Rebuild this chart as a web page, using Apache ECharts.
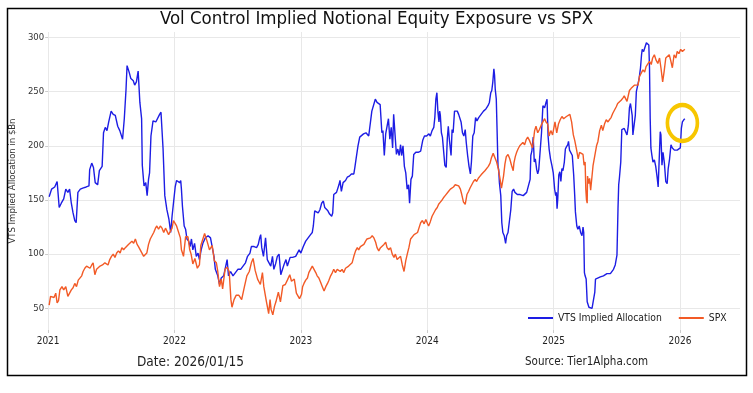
<!DOCTYPE html>
<html><head><meta charset="utf-8">
<script src="https://cdn.jsdelivr.net/npm/echarts@6/dist/echarts.min.js"></script>
<style>html,body{margin:0;padding:0;background:#fff}#c{width:753px;height:393px}</style>
</head><body><div id="c"></div>
<script>
const chartTitle = 'Vol Control Implied Notional Equity Exposure vs SPX';
const yAxisName = 'VTS Implied Allocation in $Bn';
const dateNote = 'Date: 2026/01/15';
const sourceNote = 'Source: Tier1Alpha.com';
const seriesNames = ['VTS Implied Allocation', 'SPX'];
const yearTicks = [2021, 2022, 2023, 2024, 2025, 2026];
const yTicks = [50, 100, 150, 200, 250, 300];
const circleDate = '2026-01-08';
const circleValue = 221;

const vtsDates = [
 '2021-01-04','2021-01-11','2021-01-20','2021-01-27','2021-02-02','2021-02-08','2021-02-15','2021-02-21','2021-02-27','2021-03-04',
 '2021-03-09','2021-03-14','2021-03-19','2021-03-23','2021-03-28','2021-04-04','2021-04-11','2021-04-21','2021-04-29','2021-05-01',
 '2021-05-07','2021-05-12','2021-05-17','2021-05-24','2021-05-29','2021-06-06','2021-06-10','2021-06-15','2021-06-20','2021-06-25',
 '2021-07-02','2021-07-08','2021-07-14','2021-07-21','2021-07-27','2021-08-04','2021-08-09','2021-08-14','2021-08-17','2021-08-23',
 '2021-08-28','2021-09-04','2021-09-08','2021-09-13','2021-09-18','2021-09-23','2021-09-28','2021-09-30','2021-10-05','2021-10-10',
 '2021-10-14','2021-10-18','2021-10-21','2021-10-25','2021-10-31','2021-11-08','2021-11-13','2021-11-19','2021-11-23','2021-11-29',
 '2021-12-04','2021-12-10','2021-12-16','2021-12-21','2021-12-25',
 '2022-01-03','2022-01-07','2022-01-12','2022-01-16','2022-01-19','2022-01-21','2022-01-24','2022-01-29','2022-02-02','2022-02-06',
 '2022-02-11','2022-02-15','2022-02-19','2022-02-23','2022-02-28','2022-03-05','2022-03-10','2022-03-14','2022-03-19','2022-03-24',
 '2022-03-31','2022-04-08','2022-04-15','2022-04-20','2022-04-25','2022-04-29','2022-05-06','2022-05-11','2022-05-16','2022-05-23',
 '2022-05-27','2022-06-02','2022-06-06','2022-06-12','2022-06-19','2022-06-26','2022-07-03','2022-07-11','2022-07-18','2022-07-25',
 '2022-07-31','2022-08-07','2022-08-11','2022-08-19','2022-08-26','2022-08-31','2022-09-04','2022-09-07','2022-09-10','2022-09-15',
 '2022-09-21','2022-09-26','2022-10-01','2022-10-06','2022-10-11','2022-10-15','2022-10-20','2022-10-25','2022-10-30','2022-11-04',
 '2022-11-09','2022-11-14','2022-11-19','2022-11-23','2022-12-01','2022-12-08','2022-12-17','2022-12-27',
 '2023-01-01','2023-01-08','2023-01-15','2023-01-22','2023-01-29','2023-02-03','2023-02-06','2023-02-10','2023-02-15','2023-02-20',
 '2023-02-25','2023-03-02','2023-03-07','2023-03-11','2023-03-15','2023-03-20','2023-03-25','2023-03-31','2023-04-03','2023-04-06',
 '2023-04-14','2023-04-21','2023-04-24','2023-04-28','2023-05-03','2023-05-10','2023-05-15','2023-05-21','2023-05-27','2023-06-03',
 '2023-06-06','2023-06-10','2023-06-15','2023-06-20','2023-06-25','2023-07-01','2023-07-08','2023-07-16','2023-07-20','2023-07-25',
 '2023-07-30','2023-08-04','2023-08-09','2023-08-13','2023-08-18','2023-08-23','2023-08-26','2023-08-30','2023-09-03','2023-09-06',
 '2023-09-11','2023-09-15','2023-09-19','2023-09-23','2023-09-26','2023-09-30','2023-10-04','2023-10-08','2023-10-12','2023-10-16',
 '2023-10-19','2023-10-23','2023-10-27','2023-10-31','2023-11-04','2023-11-08','2023-11-11','2023-11-15','2023-11-19','2023-11-23',
 '2023-11-29','2023-12-06','2023-12-13','2023-12-19','2023-12-24','2023-12-30',
 '2024-01-03','2024-01-06','2024-01-10','2024-01-15','2024-01-20','2024-01-23','2024-01-26','2024-01-29','2024-02-01','2024-02-04',
 '2024-02-06','2024-02-08','2024-02-11','2024-02-14','2024-02-18','2024-02-21','2024-02-25','2024-02-28','2024-03-02','2024-03-05',
 '2024-03-07','2024-03-10','2024-03-13','2024-03-16','2024-03-20','2024-03-23','2024-03-28','2024-04-01','2024-04-04','2024-04-08',
 '2024-04-12','2024-04-16','2024-04-20','2024-04-23','2024-04-27','2024-05-01','2024-05-05','2024-05-08','2024-05-12','2024-05-16',
 '2024-05-20','2024-05-24','2024-05-29','2024-06-05','2024-06-12','2024-06-19','2024-06-25','2024-06-29','2024-07-03','2024-07-06',
 '2024-07-09','2024-07-12','2024-07-14','2024-07-16','2024-07-19','2024-07-21','2024-07-24','2024-07-26','2024-07-28','2024-08-01',
 '2024-08-04','2024-08-07','2024-08-11','2024-08-15','2024-08-18','2024-08-22','2024-08-26','2024-08-30','2024-09-03','2024-09-07',
 '2024-09-11','2024-09-18','2024-09-26','2024-10-05','2024-10-10','2024-10-15','2024-10-20','2024-10-25','2024-10-27','2024-10-30',
 '2024-11-03','2024-11-06','2024-11-09','2024-11-13','2024-11-16','2024-11-19','2024-11-22','2024-11-27','2024-12-01','2024-12-06',
 '2024-12-10','2024-12-13','2024-12-16','2024-12-19','2024-12-23','2024-12-27','2024-12-31',
 '2025-01-04','2025-01-07','2025-01-09','2025-01-11','2025-01-13','2025-01-16','2025-01-19','2025-01-22','2025-01-25','2025-01-28',
 '2025-02-01','2025-02-04','2025-02-07','2025-02-11','2025-02-13','2025-02-16','2025-02-20','2025-02-24','2025-02-28','2025-03-03',
 '2025-03-05','2025-03-09','2025-03-12','2025-03-16','2025-03-20','2025-03-24','2025-03-27','2025-03-29','2025-03-31','2025-04-02',
 '2025-04-05','2025-04-08','2025-04-13','2025-04-17','2025-04-22','2025-04-27','2025-04-30','2025-05-02','2025-05-06','2025-05-16',
 '2025-05-25','2025-06-04','2025-06-14','2025-06-18','2025-06-23','2025-06-28','2025-07-03','2025-07-06','2025-07-08','2025-07-10',
 '2025-07-14','2025-07-17','2025-07-20','2025-07-24','2025-07-28','2025-08-01','2025-08-05','2025-08-08','2025-08-11','2025-08-13',
 '2025-08-16','2025-08-18','2025-08-22','2025-08-25','2025-08-28','2025-09-01','2025-09-05','2025-09-09','2025-09-12','2025-09-14',
 '2025-09-18','2025-09-22','2025-09-26','2025-09-30','2025-10-03','2025-10-05','2025-10-07','2025-10-09','2025-10-12','2025-10-15',
 '2025-10-19','2025-10-23','2025-10-27','2025-10-30','2025-11-02','2025-11-05','2025-11-07','2025-11-10','2025-11-13','2025-11-17',
 '2025-11-21','2025-11-25','2025-11-28','2025-12-02','2025-12-06','2025-12-10','2025-12-16','2025-12-24','2025-12-29',
 '2026-01-02','2026-01-05','2026-01-08','2026-01-12','2026-01-15'
];
const vtsValues = [
 153,160,162,167,143,147,151,160,157,160,
 147,138,131,129,157,160,161,162,163,178,
 184,180,166,164,177,181,212,217,214,222,
 232,229,228,218,214,206,225,252,274,268,
 262,260,256,259,269,240,225,182,163,166,
 154,169,175,209,223,222,223,229,231,197,
 154,141,132,120,135,
 162,168,169,166,168,160,144,126,123,114,
 112,107,114,104,110,98,101,95,104,110,
 115,117,115,114,98,86,80,72,78,80,
 86,95,80,84,80,83,86,86,89,92,
 98,101,107,107,106,109,115,118,106,98,
 115,95,92,89,98,86,91,98,100,81,
 86,91,95,89,97,97,98,104,
 101,107,112,115,118,120,126,140,141,138,
 141,147,149,143,144,140,137,135,138,155,
 157,164,168,158,166,168,171,172,174,174,
 180,189,200,208,209,211,212,209,209,232,
 232,243,240,239,238,212,214,191,211,212,
 225,206,217,198,229,228,192,197,191,201,
 191,200,181,175,160,164,147,169,172,192,
 194,194,195,205,209,209,
 209,211,209,214,217,226,243,249,231,222,
 232,228,212,208,209,182,180,206,218,206,
 200,191,215,212,232,231,232,229,228,222,
 212,209,215,203,191,181,174,185,209,212,
 226,223,226,229,232,234,237,240,249,251,
 259,271,265,252,243,218,181,178,166,154,
 129,120,117,110,117,120,121,141,158,160,
 157,155,155,154,154,157,163,169,191,195,
 208,185,188,178,174,178,177,212,237,235,
 240,243,209,197,188,182,175,
 160,154,157,142,151,173,176,167,179,177,
 185,197,199,201,204,196,196,191,173,154,
 139,126,123,126,120,117,125,120,83,80,
 77,56,51,51,50,49,65,77,77,79,
 80,82,82,83,86,90,99,142,164,170,
 185,215,215,216,216,210,219,235,239,238,
 228,210,210,228,250,256,262,272,284,289,
 287,286,295,296,293,272,225,198,191,185,
 187,181,171,162,161,213,210,182,194,184,
 167,165,179,188,201,198,196,196,196,
 198,216,222,224,225
];

const spxDates = [
 '2021-01-04','2021-01-08','2021-01-13','2021-01-18','2021-01-23','2021-01-27','2021-01-31','2021-02-04','2021-02-10','2021-02-15',
 '2021-02-21','2021-02-27','2021-03-04','2021-03-09','2021-03-14','2021-03-19','2021-03-24','2021-03-29','2021-04-03','2021-04-08',
 '2021-04-12','2021-04-17','2021-04-22','2021-04-27','2021-05-02','2021-05-07','2021-05-11','2021-05-16','2021-05-21','2021-05-26',
 '2021-05-31','2021-06-07','2021-06-14','2021-06-19','2021-06-23','2021-06-28','2021-07-03','2021-07-08','2021-07-13','2021-07-18',
 '2021-07-23','2021-07-28','2021-08-02','2021-08-07','2021-08-12','2021-08-16','2021-08-21','2021-08-26','2021-08-31','2021-09-05',
 '2021-09-10','2021-09-15','2021-09-19','2021-09-24','2021-09-29','2021-10-04','2021-10-09','2021-10-13','2021-10-18','2021-10-23',
 '2021-10-28','2021-11-02','2021-11-07','2021-11-11','2021-11-16','2021-11-21','2021-11-26','2021-12-01','2021-12-06','2021-12-11',
 '2021-12-15','2021-12-20','2021-12-25','2021-12-29',
 '2022-01-03','2022-01-07','2022-01-12','2022-01-18','2022-01-21','2022-01-27','2022-02-02','2022-02-09','2022-02-14','2022-02-18',
 '2022-02-23','2022-03-01','2022-03-08','2022-03-14','2022-03-18','2022-03-24','2022-03-29','2022-04-05','2022-04-12','2022-04-20',
 '2022-04-26','2022-05-02','2022-05-06','2022-05-11','2022-05-16','2022-05-20','2022-05-27','2022-06-02','2022-06-08','2022-06-13',
 '2022-06-16','2022-06-22','2022-06-28','2022-07-06','2022-07-14','2022-07-22','2022-07-29','2022-08-05','2022-08-11','2022-08-16',
 '2022-08-22','2022-08-29','2022-09-06','2022-09-12','2022-09-16','2022-09-23','2022-09-30','2022-10-04','2022-10-07','2022-10-12',
 '2022-10-17','2022-10-21','2022-10-28','2022-11-03','2022-11-10','2022-11-17','2022-11-23','2022-11-30','2022-12-05','2022-12-13',
 '2022-12-19','2022-12-28',
 '2023-01-03','2023-01-06','2023-01-10','2023-01-15','2023-01-20','2023-01-24','2023-01-29','2023-02-03','2023-02-08','2023-02-13',
 '2023-02-17','2023-02-22','2023-02-27','2023-03-04','2023-03-09','2023-03-14','2023-03-19','2023-03-23','2023-03-28','2023-04-02',
 '2023-04-06','2023-04-11','2023-04-16','2023-04-20','2023-04-25','2023-04-30','2023-05-05','2023-05-10','2023-05-14','2023-05-19',
 '2023-05-24','2023-05-29','2023-06-03','2023-06-08','2023-06-13','2023-06-17','2023-06-22','2023-06-27','2023-07-02','2023-07-07',
 '2023-07-11','2023-07-16','2023-07-21','2023-07-26','2023-07-31','2023-08-05','2023-08-09','2023-08-14','2023-08-19','2023-08-24',
 '2023-08-29','2023-09-03','2023-09-07','2023-09-12','2023-09-17','2023-09-22','2023-09-27','2023-10-01','2023-10-06','2023-10-11',
 '2023-10-16','2023-10-21','2023-10-26','2023-10-31','2023-11-05','2023-11-09','2023-11-14','2023-11-19','2023-11-24','2023-11-29',
 '2023-12-04','2023-12-08','2023-12-13','2023-12-18','2023-12-23','2023-12-28',
 '2024-01-02','2024-01-05','2024-01-10','2024-01-15','2024-01-20','2024-01-25','2024-01-30','2024-02-03','2024-02-08','2024-02-13',
 '2024-02-17','2024-02-22','2024-02-27','2024-03-03','2024-03-08','2024-03-13','2024-03-17','2024-03-22','2024-03-27','2024-04-01',
 '2024-04-06','2024-04-10','2024-04-15','2024-04-20','2024-04-25','2024-04-30','2024-05-04','2024-05-09','2024-05-14','2024-05-19',
 '2024-05-23','2024-05-28','2024-06-02','2024-06-07','2024-06-11','2024-06-16','2024-06-21','2024-06-26','2024-07-01','2024-07-05',
 '2024-07-10','2024-07-15','2024-07-20','2024-07-24','2024-07-29','2024-08-03','2024-08-05','2024-08-09','2024-08-13','2024-08-17',
 '2024-08-22','2024-08-27','2024-09-01','2024-09-06','2024-09-08','2024-09-12','2024-09-16','2024-09-20','2024-09-25','2024-09-30',
 '2024-10-04','2024-10-09','2024-10-14','2024-10-18','2024-10-23','2024-10-28','2024-11-01','2024-11-07','2024-11-11','2024-11-16',
 '2024-11-21','2024-11-26','2024-12-01','2024-12-06','2024-12-10','2024-12-15','2024-12-19','2024-12-24','2024-12-29',
 '2025-01-05','2025-01-10','2025-01-15','2025-01-20','2025-01-25','2025-01-30','2025-02-03','2025-02-07','2025-02-12','2025-02-17',
 '2025-02-22','2025-02-27','2025-03-03','2025-03-08','2025-03-13','2025-03-17','2025-03-22','2025-03-27','2025-03-30','2025-04-02',
 '2025-04-04','2025-04-06','2025-04-08','2025-04-09','2025-04-12','2025-04-15','2025-04-18','2025-04-21','2025-04-25','2025-04-30',
 '2025-05-05','2025-05-09','2025-05-14','2025-05-19','2025-05-23','2025-05-28','2025-06-02','2025-06-07','2025-06-11','2025-06-16',
 '2025-06-21','2025-06-26','2025-07-01','2025-07-05','2025-07-10','2025-07-15','2025-07-20','2025-07-24','2025-07-29','2025-08-01',
 '2025-08-08','2025-08-13','2025-08-18','2025-08-23','2025-08-28','2025-09-02','2025-09-06','2025-09-11','2025-09-16','2025-09-21',
 '2025-09-25','2025-09-30','2025-10-05','2025-10-10','2025-10-14','2025-10-19','2025-10-24','2025-10-29','2025-11-03','2025-11-07',
 '2025-11-12','2025-11-16','2025-11-21','2025-11-26','2025-12-01','2025-12-05','2025-12-10','2025-12-15','2025-12-20','2025-12-24',
 '2025-12-29',
 '2026-01-03','2026-01-08','2026-01-12','2026-01-15'
];
const spxValues = [
 53,61,62,60,64,55,57,67,70,67,
 70,61,60,67,69,73,70,76,75,80,
 84,87,89,90,87,90,92,81,86,87,
 89,90,92,93,90,95,98,100,97,101,
 103,101,106,104,106,107,109,110,112,110,
 114,109,107,104,103,98,97,101,109,114,
 117,120,124,126,123,126,124,120,124,123,
 118,121,124,131,
 131,126,125,115,104,98,116,116,104,100,
 91,96,87,90,108,114,119,112,104,108,
 94,92,84,70,77,68,86,88,84,58,
 51,58,62,62,58,70,80,84,92,96,
 85,77,72,83,70,57,45,58,49,44,
 52,56,65,56,71,72,76,81,75,77,
 64,59,
 63,70,73,76,78,83,86,89,86,83,
 80,78,74,70,66,70,73,76,80,83,
 86,83,86,87,84,86,83,87,86,89,
 90,92,98,103,106,104,107,106,109,112,
 114,114,115,117,115,111,106,103,106,107,
 109,111,106,104,106,100,97,100,95,94,
 98,90,84,94,101,106,114,115,118,117,
 120,124,129,131,128,132,
 128,126,130,135,138,141,143,146,148,150,
 152,154,155,158,160,161,162,164,165,163,
 160,155,148,146,155,158,161,164,167,169,
 167,170,172,174,175,177,178,181,184,189,
 193,194,185,180,171,161,160,172,183,190,
 192,188,182,177,184,190,194,197,200,200,
 203,201,206,208,205,206,198,214,218,212,
 215,219,222,225,222,220,209,214,210,
 222,212,220,224,227,225,224,227,226,229,
 222,210,205,197,188,194,195,192,182,185,
 160,150,147,172,165,170,159,160,182,191,
 200,204,214,219,214,220,224,222,224,226,
 230,233,236,239,239,242,244,246,245,241,
 251,253,254,256,257,256,264,265,270,268,
 273,272,278,275,281,284,279,276,281,272,
 259,268,281,282,284,279,272,284,281,287,
 285,
 289,287,286,289
];

function decYear(s) {
  const p = s.split('-').map(Number);
  const a = Date.UTC(p[0], 0, 1), b = Date.UTC(p[0] + 1, 0, 1);
  return p[0] + (Date.UTC(p[0], p[1] - 1, p[2]) - a) / (b - a);
}

const NARROW = '"Liberation Sans Narrow","DejaVu Sans Condensed",sans-serif';
const chart = echarts.init(document.getElementById('c'));
chart.setOption({
  animation: false,
  backgroundColor: '#ffffff',
  title: [
    { text: chartTitle, left: 'center', top: 10, padding: 0, textStyle: { fontFamily: NARROW, fontSize: 18.5, fontWeight: 'normal', color: '#111' } },
    { text: dateNote, left: 137, top: 355, padding: 0, textStyle: { fontFamily: NARROW, fontSize: 13.5, fontWeight: 'normal', color: '#222' } },
    { text: sourceNote, left: 525, top: 356, padding: 0, textStyle: { fontFamily: NARROW, fontSize: 11.5, fontWeight: 'normal', color: '#222' } }
  ],
  grid: { left: 43, right: 13, top: 32, bottom: 63 },
  legend: {
    data: seriesNames, left: 528, top: 313, width: 225, padding: 0, icon: 'rect', itemWidth: 25, itemHeight: 2, itemGap: 17,
    textStyle: { fontFamily: NARROW, fontSize: 10.3, color: '#222' }
  },
  xAxis: {
    type: 'value', min: 2021, max: 2026.475,
    axisLine: { show: false },
    axisTick: { show: true, length: 3, customValues: yearTicks, lineStyle: { color: '#cccccc' } },
    axisLabel: { customValues: yearTicks, formatter: v => String(Math.round(v)), fontFamily: NARROW, fontSize: 10, color: '#222', margin: 6 },
    splitLine: { show: true, lineStyle: { color: '#e8e8e8', width: 1 } }
  },
  yAxis: {
    type: 'value', min: 30, max: 305,
    name: yAxisName, nameLocation: 'middle', nameRotate: 90, nameGap: 25,
    nameTextStyle: { fontFamily: 'DejaVu Sans', fontSize: 8.5, color: '#333' },
    axisLine: { show: false },
    axisTick: { show: true, length: 3, customValues: yTicks, lineStyle: { color: '#cccccc' } },
    axisLabel: { customValues: yTicks, fontFamily: 'DejaVu Sans', fontSize: 8.5, color: '#333', margin: 4 },
    splitLine: { show: true, lineStyle: { color: '#e8e8e8', width: 1 } }
  },
  graphic: [
    { type: 'rect', z: 100, silent: true, shape: { x: 7.5, y: 8.5, width: 739, height: 367 }, style: { fill: null, stroke: '#000', lineWidth: 1.5 } }
  ],
  series: [
    {
      name: seriesNames[0], type: 'line', showSymbol: false, symbol: 'none',
      color: '#1d1de4', lineStyle: { width: 1.4, color: '#1d1de4' },
      data: vtsDates.map((d, i) => [decYear(d), vtsValues[i]]),
      markPoint: {
        silent: true, symbol: 'circle', symbolSize: [30, 36],
        itemStyle: { color: 'rgba(0,0,0,0)', borderColor: '#f7c600', borderWidth: 4 },
        label: { show: false },
        data: [{ coord: [decYear(circleDate), circleValue] }]
      }
    },
    {
      name: seriesNames[1], type: 'line', showSymbol: false, symbol: 'none',
      color: '#f25a26', lineStyle: { width: 1.4, color: '#f25a26' },
      data: spxDates.map((d, i) => [decYear(d), spxValues[i]])
    }
  ]
});
</script>
</body></html>
